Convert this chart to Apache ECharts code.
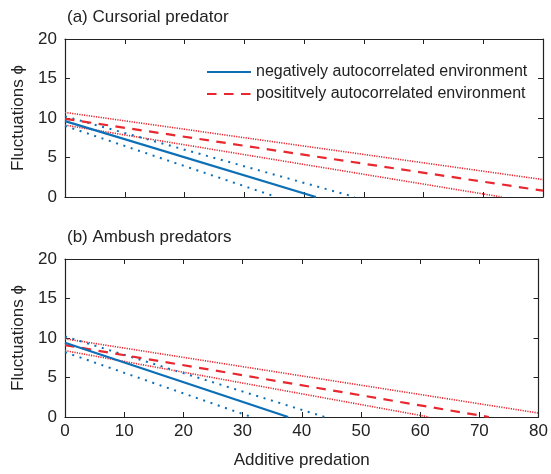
<!DOCTYPE html>
<html>
<head>
<meta charset="utf-8">
<script src="https://cdn.jsdelivr.net/npm/echarts@6/dist/echarts.min.js"></script>
<style>html,body{margin:0;padding:0;background:#fff}#c{width:551px;height:474px}</style>
</head>
<body>
<div id="c"></div>
<script>
// x ticks / y ticks
var xTicks = [0, 10, 20, 30, 40, 50, 60, 70, 80];
var yTicks = [0, 5, 10, 15, 20];
var legendNames = ['negatively autocorrelated environment', 'posititvely autocorrelated environment'];
var panelTitles = ['(a) Cursorial predator', '(b) Ambush predators'];

// Panel (a) Cursorial predator: [x, y] end points
var aNegMid   = [[0, 9.6], [42.0, 0]];
var aNegUpper = [[0, 10.2], [48.5, 0]];
var aNegLower = [[0, 9.0], [35.4, 0]];
var aPosMid   = [[0, 9.9], [80, 0.8]];
var aPosUpper = [[0, 10.7], [80, 2.2]];
var aPosLower = [[0, 9.1], [73.1, 0]];

// Panel (b) Ambush predators
var bNegMid   = [[0, 9.4], [37.7, 0]];
var bNegUpper = [[0, 10.2], [43.9, 0]];
var bNegLower = [[0, 8.2], [31.5, 0]];
var bPosMid   = [[0, 9.1], [71.6, 0]];
var bPosUpper = [[0, 9.9], [80, 0.5]];
var bPosLower = [[0, 8.4], [61.5, 0]];

var BLUE = '#0d6fb6', RED = '#e8272f', INK = '#222';
var FONT = 'Liberation Sans, Arial, Helvetica, sans-serif';

function xAx(grid, pos, labels, name) {
  return {
    type: 'value', gridIndex: grid, position: pos, min: 0, max: 80, interval: 10,
    axisLine: {show: true, onZero: false, lineStyle: {color: INK, width: 1.2}},
    axisTick: {show: true, inside: true, length: 5, lineStyle: {color: INK}},
    axisLabel: {show: labels, color: INK, fontSize: 17, fontFamily: FONT, margin: 6},
    splitLine: {show: false},
    name: name || '', nameLocation: 'middle', nameGap: 35,
    nameTextStyle: {color: INK, fontSize: 17, fontFamily: FONT}
  };
}
function yAx(grid, pos, labels, name) {
  return {
    type: 'value', gridIndex: grid, position: pos, min: 0, max: 20, interval: 5,
    axisLine: {show: true, onZero: false, lineStyle: {color: INK, width: 1.2}},
    axisTick: {show: true, inside: true, length: 5, lineStyle: {color: INK}},
    axisLabel: {show: labels, color: INK, fontSize: 17, fontFamily: FONT, margin: 8},
    splitLine: {show: false},
    name: name || '', nameLocation: 'middle', nameGap: 37, nameRotate: 90,
    nameTextStyle: {color: INK, fontSize: 17, fontFamily: FONT}
  };
}
function ser(name, data, grid, color, type, width) {
  return {
    name: name, type: 'line', data: data, xAxisIndex: grid * 2, yAxisIndex: grid * 2,
    symbol: 'none', silent: true, animation: false, clip: true,
    lineStyle: {color: color, type: type, width: width}, itemStyle: {color: color}
  };
}
var blueDot = [2, 5.7], redDot = [1.2, 1.2], redDash = [9.5, 7.5];

var option = {
  animation: false,
  backgroundColor: '#fff',
  title: [
    {text: panelTitles[0], left: 62, top: 4, textStyle: {color: INK, fontSize: 17, fontWeight: 'normal', fontFamily: FONT}},
    {text: panelTitles[1], left: 62, top: 224, textStyle: {color: INK, fontSize: 17, fontWeight: 'normal', fontFamily: FONT}}
  ],
  legend: {
    data: legendNames, orient: 'vertical', left: 201, top: 59,
    itemWidth: 44, itemHeight: 14, itemGap: 6,
    itemStyle: {opacity: 0},
    textStyle: {color: INK, fontSize: 16, fontFamily: FONT},
    selectedMode: false
  },
  grid: [
    {left: 65, top: 39, width: 478, height: 158},
    {left: 65, top: 259, width: 478, height: 158}
  ],
  xAxis: [xAx(0, 'bottom', false), xAx(0, 'top', false), xAx(1, 'bottom', true, 'Additive predation'), xAx(1, 'top', false)],
  yAxis: [yAx(0, 'left', true, 'Fluctuations \u03d5'), yAx(0, 'right', false), yAx(1, 'left', true, 'Fluctuations \u03d5'), yAx(1, 'right', false)],
  series: [
    ser('aPU', aPosUpper, 0, RED, redDot, 1.6),
    ser('aPL', aPosLower, 0, RED, redDot, 1.6),
    ser('aNU', aNegUpper, 0, BLUE, blueDot, 2),
    ser('aNL', aNegLower, 0, BLUE, blueDot, 2),
    ser(legendNames[1], aPosMid, 0, RED, redDash, 2.2),
    ser(legendNames[0], aNegMid, 0, BLUE, 'solid', 2.2),
    ser('bPU', bPosUpper, 1, RED, redDot, 1.6),
    ser('bPL', bPosLower, 1, RED, redDot, 1.6),
    ser('bNU', bNegUpper, 1, BLUE, blueDot, 2),
    ser('bNL', bNegLower, 1, BLUE, blueDot, 2),
    ser(legendNames[1], bPosMid, 1, RED, redDash, 2.2),
    ser(legendNames[0], bNegMid, 1, BLUE, 'solid', 2.2)
  ]
};
var chart = echarts.init(document.getElementById('c'), null, {renderer: 'canvas'});
chart.setOption(option);
</script>
</body>
</html>
